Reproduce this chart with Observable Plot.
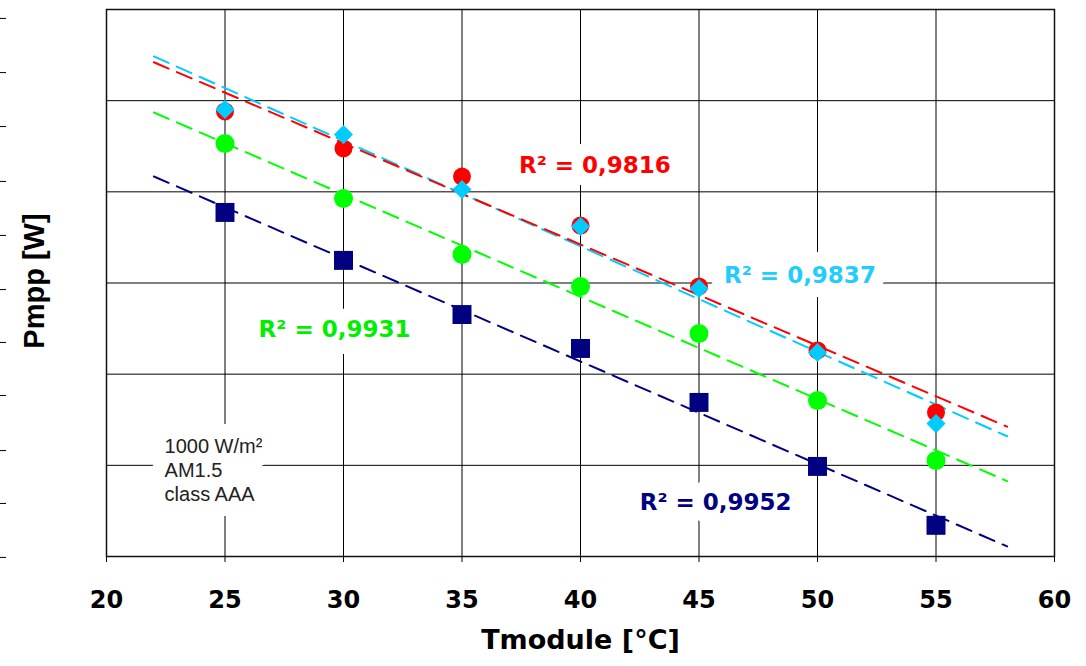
<!DOCTYPE html>
<html>
<head>
<meta charset="utf-8">
<script src="https://cdn.jsdelivr.net/npm/d3@7"></script>
<script src="https://cdn.jsdelivr.net/npm/@observablehq/plot@0.6"></script>
<style>
  html, body { margin: 0; padding: 0; background: #fff; }
</style>
</head>
<body>
<div id="chart"></div>
<script>
// ---- data ----
const temps = [25, 30, 35, 40, 45, 50, 55];
const seriesRed   = [194.41, 192.38, 190.84, 188.15, 184.81, 181.30, 177.90];
const seriesCyan  = [194.52, 193.14, 190.13, 188.10, 184.70, 181.19, 177.29];
const seriesGreen = [192.65, 189.63, 186.56, 184.81, 182.23, 178.56, 175.27];
const seriesNavy  = [188.87, 186.24, 183.27, 181.41, 178.45, 174.94, 171.71];
const xTicks = [20, 25, 30, 35, 40, 45, 50, 55, 60];
const xGrid = [25, 30, 35, 40, 45, 50, 55];
const yGrid = [175, 180, 185, 190, 195];
const leftTicks = [169.95, 172.91, 175.81, 178.83, 181.74, 184.64, 187.61, 190.57, 193.58, 196.54, 199.51];
const trendRange = [22, 58];
const r2Labels = ["R² = 0,9816", "R² = 0,9837", "R² = 0,9931", "R² = 0,9952"];
const r2X = [40.61, 49.26, 29.62, 45.70];
const r2Y = [191.41, 185.38, 182.42, 172.98];
const noteText = "1000 W/m²\nAM1.5\nclass AAA";
const noteX = 22.45;
const noteY = 174.8;

const colors = {red: "#ff0000", cyan: "#00ccff", green: "#00ff00", navy: "#000080"};
const labelColors = ["#ff0000", "#22ccff", "#00ee00", "#000080"];

function pts(vals) { return temps.map((t, i) => ({x: t, y: vals[i]})); }
function trend(vals) {
  const mx = d3.mean(temps), my = d3.mean(vals);
  let sxy = 0, sxx = 0;
  temps.forEach((t, i) => { sxy += (t - mx) * (vals[i] - my); sxx += (t - mx) ** 2; });
  const b = sxy / sxx, a = my - b * mx;
  return trendRange.map(x => ({x, y: a + b * x}));
}
const labels = r2Labels.map((t, i) => ({t, x: r2X[i], y: r2Y[i], c: labelColors[i]}));

const noteOpts = {x: () => noteX, y: () => noteY, text: d => d, textAnchor: "start", lineHeight: 1.2, fontSize: 20, fontWeight: "normal", fontFamily: "Liberation Sans"};
const labelOpts = {x: "x", y: "y", text: "t", fontSize: 23, fontWeight: "bold", fontFamily: "DejaVu Sans"};

const dash = "16,9";
const chart = Plot.plot({
  width: 1086,
  height: 666,
  marginLeft: 106,
  marginRight: 32,
  marginTop: 9,
  marginBottom: 110,
  style: {fontFamily: "DejaVu Sans", fontWeight: "bold", fontSize: "24px", color: "#000", background: "#fff"},
  x: {domain: [20, 60], label: null},
  y: {domain: [170, 200], label: null},
  marks: [
    Plot.gridX(xGrid, {stroke: "#000", strokeOpacity: 1, strokeWidth: 1}),
    Plot.gridY(yGrid, {stroke: "#000", strokeOpacity: 1, strokeWidth: 1}),
    Plot.frame({stroke: "#111", strokeWidth: 1.5}),
    Plot.axisX(xTicks, {tickSize: 6, tickPadding: 28, fontSize: 24, fontWeight: "bold", label: null}),
    Plot.axisY(leftTicks, {tickSize: 6, dx: -100, tickFormat: () => "", label: null}),
    Plot.text(["Tmodule [°C]"], {frameAnchor: "bottom", dy: 92, fontSize: 27, fontWeight: "bold", fontFamily: "DejaVu Sans", fill: "#000"}),
    Plot.text(["Pmpp [W]"], {frameAnchor: "left", textAnchor: "middle", dx: -72, dy: -2, rotate: -90, fontSize: 29, fontWeight: "bold", fontFamily: "Liberation Sans", fill: "#000"}),
    // white boxes (halos) behind the annotations
    Plot.text([noteText], {...noteOpts, fill: "#fff", stroke: "#fff", strokeWidth: 30, strokeLinejoin: "round"}),
    Plot.text(labels, {...labelOpts, fill: "#fff", stroke: "#fff", strokeWidth: 28, strokeLinejoin: "round"}),
    Plot.text([noteText], {...noteOpts, fill: "#222"}),
    Plot.text(labels, {...labelOpts, fill: "c"}),
    Plot.line(trend(seriesNavy), {x: "x", y: "y", stroke: colors.navy, strokeWidth: 2, strokeDasharray: dash}),
    Plot.line(trend(seriesGreen), {x: "x", y: "y", stroke: colors.green, strokeWidth: 2, strokeDasharray: dash}),
    Plot.line(trend(seriesCyan), {x: "x", y: "y", stroke: colors.cyan, strokeWidth: 2, strokeDasharray: dash}),
    Plot.line(trend(seriesRed), {x: "x", y: "y", stroke: colors.red, strokeWidth: 2, strokeDasharray: dash}),
    Plot.dot(pts(seriesRed), {x: "x", y: "y", r: 9, fill: colors.red, symbol: "circle"}),
    Plot.dot(pts(seriesCyan), {x: "x", y: "y", r: 8.6, fill: colors.cyan, symbol: "diamond2"}),
    Plot.dot(pts(seriesGreen), {x: "x", y: "y", r: 9.5, fill: colors.green, symbol: "circle"}),
    Plot.dot(pts(seriesNavy), {x: "x", y: "y", r: 10.7, fill: colors.navy, symbol: "square"})
  ]
});
document.getElementById("chart").appendChild(chart);
</script>
</body>
</html>
